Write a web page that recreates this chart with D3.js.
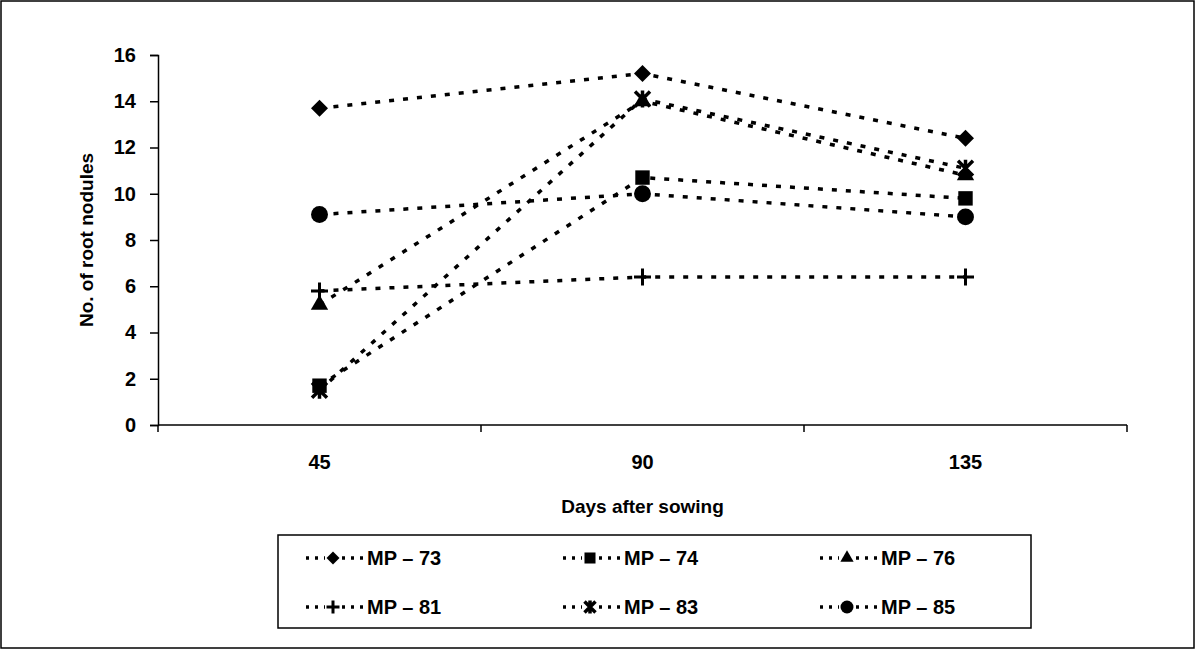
<!DOCTYPE html>
<html>
<head>
<meta charset="utf-8">
<script src="https://cdn.jsdelivr.net/npm/d3@7"></script>
<style>
  body { margin: 0; background: #fff; }
  svg { display: block; font-family: "Liberation Sans", Arial, sans-serif; font-weight: bold; }
</style>
</head>
<body>
<svg id="main-svg" width="1196" height="651"></svg>
<script>
// categories and series
const days = ["45", "90", "135"];
const yTicks = [0, 2, 4, 6, 8, 10, 12, 14, 16];
const seriesNames = ["MP \u2013 73", "MP \u2013 74", "MP \u2013 76", "MP \u2013 81", "MP \u2013 83", "MP \u2013 85"];
const mp73 = [13.7, 15.2, 12.4];
const mp74 = [1.7, 10.7, 9.8];
const mp76 = [5.2, 14.0, 10.8];
const mp81 = [5.8, 6.4, 6.4];
const mp83 = [1.5, 14.1, 11.1];
const mp85 = [9.1, 10.0, 9.0];
const seriesValues = [mp73, mp74, mp76, mp81, mp83, mp85];
const markerTypes = ["diamond", "square", "triangle", "plus", "asterisk", "circle"];

const svg = d3.select("#main-svg");

// outer frame
svg.append("rect")
    .attr("x", 1).attr("y", 1)
    .attr("width", 1193).attr("height", 647)
    .attr("fill", "none").attr("stroke", "#000").attr("stroke-width", 1.5);

const plot = { left: 158, right: 1127, top: 55, bottom: 425 };

const x = d3.scaleBand()
    .domain(days)
    .range([plot.left, plot.right]);

const y = d3.scaleLinear()
    .domain([0, 16])
    .range([plot.bottom, plot.top]);

// y axis
const yAxis = svg.append("g")
    .attr("transform", `translate(${plot.left},0)`)
    .call(d3.axisLeft(y).tickValues(yTicks).tickSize(8).tickPadding(14));
yAxis.select(".domain").attr("stroke-width", 1.5);
yAxis.selectAll(".tick line").attr("stroke-width", 1.5);
yAxis.selectAll("text").style("font-size", "20px").style("font-weight", "bold").attr("fill", "#000");

// x axis, ticks at band edges
const xAxis = svg.append("g")
    .attr("transform", `translate(0,${plot.bottom})`);
xAxis.append("line")
    .attr("x1", plot.left).attr("x2", plot.right)
    .attr("stroke", "#000").attr("stroke-width", 1.5);
xAxis.selectAll(".edge")
    .data(days.map(d => x(d)).concat([plot.right]))
    .join("line")
    .attr("x1", d => d).attr("x2", d => d)
    .attr("y1", 0).attr("y2", 7)
    .attr("stroke", "#000").attr("stroke-width", 1.5);
xAxis.selectAll(".lbl")
    .data(days)
    .join("text")
    .attr("x", d => x(d) + x.bandwidth() / 2)
    .attr("y", 44)
    .attr("text-anchor", "middle")
    .style("font-size", "20px")
    .text(d => d);

// axis titles
svg.append("text")
    .attr("x", plot.left + (plot.right - plot.left) / 2)
    .attr("y", 513)
    .attr("text-anchor", "middle")
    .style("font-size", "19px")
    .text("Days after sowing");

svg.append("text")
    .attr("transform", "translate(93,240) rotate(-90)")
    .attr("text-anchor", "middle")
    .style("font-size", "19px")
    .text("No. of root nodules");

// marker drawing
function drawMarker(g, type, s) {
    if (type === "diamond") {
        g.append("path").attr("d", d3.symbol(d3.symbolSquare, s * s * 0.5)()).attr("transform", "rotate(45)").attr("fill", "#000");
    } else if (type === "square") {
        g.append("path").attr("d", d3.symbol(d3.symbolSquare, s * s * 0.72)()).attr("fill", "#000");
    } else if (type === "triangle") {
        g.append("path").attr("d", d3.symbol(d3.symbolTriangle, s * s * 0.45)()).attr("fill", "#000");
    } else if (type === "circle") {
        g.append("path").attr("d", d3.symbol(d3.symbolCircle, s * s * 0.78)()).attr("fill", "#000");
    } else if (type === "plus") {
        const h = s / 2;
        g.append("path").attr("d", `M${-h},0H${h}M0,${-h}V${h}`).attr("stroke", "#000").attr("stroke-width", 3);
    } else if (type === "asterisk") {
        const h = s / 2 - 1;
        g.append("path").attr("d", `M${-h},${-h}L${h},${h}M${-h},${h}L${h},${-h}M0,${-h - 1}V${h + 1}`)
            .attr("stroke", "#000").attr("stroke-width", 3.5);
    }
}

const line = d3.line()
    .x((d, i) => x(days[i]) + x.bandwidth() / 2)
    .y(d => y(d));

seriesValues.forEach((vals, k) => {
    svg.append("path")
        .datum(vals)
        .attr("d", line)
        .attr("fill", "none")
        .attr("stroke", "#000")
        .attr("stroke-width", 3.5)
        .attr("stroke-dasharray", "5,9")
        .attr("stroke-linecap", "butt");
    vals.forEach((v, i) => {
        const g = svg.append("g")
            .attr("transform", `translate(${x(days[i]) + x.bandwidth() / 2},${y(v)})`);
        drawMarker(g, markerTypes[k], 17);
    });
});

// legend
const legend = svg.append("g");
legend.append("rect")
    .attr("x", 278).attr("y", 535)
    .attr("width", 753).attr("height", 93)
    .attr("fill", "#fff").attr("stroke", "#000").attr("stroke-width", 1.5);

seriesNames.forEach((name, k) => {
    const col = k % 3, row = Math.floor(k / 3);
    const gx = 306 + col * 257, gy = 558 + row * 49;
    const item = legend.append("g").attr("transform", `translate(${gx},${gy})`);
    item.append("line")
        .attr("x1", 0).attr("x2", 58)
        .attr("stroke", "#000").attr("stroke-width", 3.5)
        .attr("stroke-dasharray", "3,6");
    const m = item.append("g").attr("transform", "translate(27,0)");
    m.append("rect").attr("x", -8).attr("y", -8).attr("width", 16).attr("height", 16).attr("fill", "#fff");
    drawMarker(m, markerTypes[k], 13);
    item.append("text")
        .attr("x", 61).attr("y", 7)
        .style("font-size", "20px")
        .text(name);
});
</script>
</body>
</html>
